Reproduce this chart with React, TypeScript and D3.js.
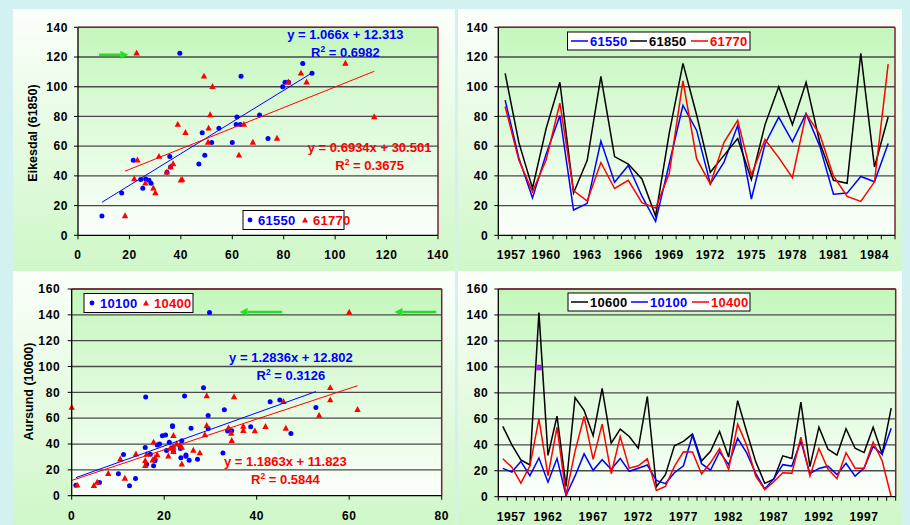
import React from 'react';
import * as d3 from 'd3';

// ---------- DATA ----------
const yearsTop = [1957, 1958, 1959, 1960, 1961, 1962, 1963, 1964, 1965, 1966, 1967, 1968, 1969, 1970, 1971, 1972, 1973, 1974, 1975, 1976, 1977, 1978, 1979, 1980, 1981, 1982, 1983, 1984, 1985];
const s61850 = [109, 62.5, 31.7, 72, 103, 28.5, 50.5, 107, 53, 48, 37.9, 13, 69, 115.7, 81, 42.4, 53.8, 65.2, 37.5, 74.5, 100, 74.5, 103, 62.5, 37, 35, 122.5, 46, 79.6];
const s61550 = [91, 52, 25.2, 54.8, 80.5, 17, 21.5, 63.4, 35.7, 47, 26.3, 9.3, 48.3, 87.4, 70.6, 34.6, 49.3, 73.9, 24.4, 61.5, 79.6, 63.1, 81.9, 60, 27.6, 28.4, 39.6, 36, 61.8];
const s61770 = [86.7, 50.6, 29.3, 50.8, 88.9, 30.1, 23.1, 49, 31.5, 37, 21.9, 18.3, 41.8, 104, 51.4, 34.5, 62.6, 77.4, 40.5, 64.5, 52.3, 38.8, 81.8, 68, 40, 26.2, 22.8, 36, 115.2];

const yearsBottom = [1957, 1958, 1959, 1960, 1961, 1962, 1963, 1964, 1965, 1966, 1967, 1968, 1969, 1970, 1971, 1972, 1973, 1974, 1975, 1976, 1977, 1978, 1979, 1980, 1981, 1982, 1983, 1984, 1985, 1986, 1987, 1988, 1989, 1990, 1991, 1992, 1993, 1994, 1995, 1996, 1997, 1998, 1999, 2000];
const s10600 = [54.2, 40, 28.3, 24.4, 141.8, 31.8, 62, 8, 76.4, 66.5, 47, 83.5, 41.3, 52.1, 46.4, 37.3, 77.2, 7.7, 17, 39.2, 42.6, 48.2, 27.5, 35, 50.3, 30.5, 74, 50, 27, 10.3, 13.4, 31.5, 29.4, 72.8, 23.2, 53.6, 36.6, 32.1, 52.3, 37.3, 34, 53.4, 33, 68.2];
const s10100 = [21.8, 19, 27.2, 16.2, 29.8, 11.2, 29.5, 0.9, 16, 33, 20.3, 28.5, 21.1, 29.5, 19.6, 21.9, 24.4, 12.5, 10.1, 18.5, 23.8, 47.4, 25.4, 20.5, 34.6, 24.7, 45, 33.7, 18, 6, 13.8, 24.7, 23.6, 42.9, 17.7, 21.8, 23.5, 17, 25.8, 15.9, 22, 38.7, 32.7, 52.8];
const s10400 = [29.2, 22.7, 10.5, 23.8, 60, 16.2, 53.5, 1.2, 35.1, 61.8, 28.8, 55.9, 17.7, 46.3, 22, 23.8, 29.2, 4.8, 7.9, 23.4, 34.6, 34.5, 17.5, 26.3, 37.1, 20.9, 55.9, 39.6, 15.9, 5.5, 11.5, 18.5, 18, 45.8, 15.9, 37.1, 21.3, 13.9, 33.9, 22, 22, 41.9, 27.7, 0];

// highlighted point (purple square) in the lower time series
const highlightYear = 1961;
const highlightValue = 99.5;

// trendline coefficients as printed
const fit61550 = { slope: 1.066, intercept: 12.313, r2: '0.6982', eq: 'y = 1.066x + 12.313' };
const fit61770 = { slope: 0.6934, intercept: 30.501, r2: '0.3675', eq: 'y = 0.6934x + 30.501' };
const fit10100 = { slope: 1.2836, intercept: 12.802, r2: '0.3126', eq: 'y = 1.2836x + 12.802' };
const fit10400 = { slope: 1.1863, intercept: 11.823, r2: '0.5844', eq: 'y = 1.1863x + 11.823' };

// ticks
const ticksA = [0, 20, 40, 60, 80, 100, 120, 140];
const ticksCy = [0, 20, 40, 60, 80, 100, 120, 140, 160];
const ticksCx = [0, 20, 40, 60, 80];
const yearLabelsTop = [1957, 1960, 1963, 1966, 1969, 1972, 1975, 1978, 1981, 1984];
const yearLabelsBottom = [1957, 1962, 1967, 1972, 1977, 1982, 1987, 1992, 1997];

// ---------- STYLE ----------
const FONT = "'Liberation Sans', Arial, sans-serif";
const BLUE = '#0000ff';
const RED = '#ff0000';
const BLACK = '#000000';
const GREEN = '#22e022';
const GRID = '#4a4a4a';
const FRAME = '#7a2038';

function tri(cx: number, cy: number, s = 3.2) {
  return `M${cx},${cy - s * 1.15} L${cx + s},${cy + s * 0.7} L${cx - s},${cy + s * 0.7} Z`;
}

function Arrow({ x1, y1, x2, y2 }: { x1: number; y1: number; x2: number; y2: number }) {
  const dir = Math.sign(x2 - x1);
  const hx = x2 - dir * 8;
  return (
    <g>
      <line x1={x1} y1={y1} x2={hx} y2={y2} stroke={GREEN} strokeWidth={2.6} />
      <path d={`M${x2},${y2} L${hx},${y2 - 4} L${hx},${y2 + 4} Z`} fill={GREEN} />
    </g>
  );
}

function R2({ x, y, value, color }: { x: number; y: number; value: string; color: string }) {
  return (
    <text x={x} y={y} textAnchor="middle" fill={color} fontSize={13} fontWeight="bold">
      R<tspan fontSize={8.5} dy={-5}>2</tspan>
      <tspan dy={5}>{` = ${value}`}</tspan>
    </text>
  );
}

function YAxis({ scale, ticks, x, gap = 10 }: { scale: any; ticks: number[]; x: number; gap?: number }) {
  return (
    <g>
      {ticks.map((t) => (
        <g key={t}>
          <line x1={x - 4} x2={x} y1={scale(t)} y2={scale(t)} stroke={BLACK} strokeWidth={1} />
          <text x={x - gap} y={scale(t) + 4.3} textAnchor="end" fontSize={12} fontWeight="bold" letterSpacing={0.6}>
            {t}
          </text>
        </g>
      ))}
      <line x1={x} x2={x} y1={scale(ticks[0])} y2={scale(ticks[ticks.length - 1])} stroke={BLACK} strokeWidth={1.3} />
    </g>
  );
}

function PlotFrame({ x0, x1, y0, y1, ticks, yScale }: any) {
  return (
    <g>
      <rect x={x0} y={y1} width={x1 - x0} height={y0 - y1} fill="url(#plotBg)" />
      {ticks.slice(1).map((t: number) => (
        <line key={t} x1={x0} x2={x1} y1={yScale(t)} y2={yScale(t)} stroke={GRID} strokeWidth={1.3} />
      ))}
      <line x1={x0} x2={x1} y1={y1} y2={y1} stroke={FRAME} strokeWidth={1.5} />
      <line x1={x1} x2={x1} y1={y1} y2={y0} stroke={FRAME} strokeWidth={1.5} />
    </g>
  );
}

// ---------- Scatter panel ----------
function Scatter(props: {
  xDomain: [number, number];
  yDomain: [number, number];
  xRange: [number, number];
  yRange: [number, number];
  xTicks: number[];
  yTicks: number[];
  yGap: number;
  blueX: number[];
  redX: number[];
  ys: number[];
  blueFit: any;
  redFit: any;
}) {
  const x = d3.scaleLinear(props.xDomain, props.xRange);
  const y = d3.scaleLinear(props.yDomain, props.yRange);
  const [x0, x1] = props.xRange;
  const [y0, y1] = props.yRange;
  const trend = (xs: number[], fit: any) => {
    const [a, b] = d3.extent(xs) as [number, number];
    return d3.line()([
      [x(a), y(fit.slope * a + fit.intercept)],
      [x(b), y(fit.slope * b + fit.intercept)],
    ]) as string;
  };
  return (
    <g>
      <PlotFrame x0={x0} x1={x1} y0={y0} y1={y1} ticks={props.yTicks} yScale={y} />
      {props.ys.map((v, i) => (
        <circle key={'b' + i} cx={x(props.blueX[i])} cy={y(v)} r={2.5} fill={BLUE} />
      ))}
      {props.ys.map((v, i) => (
        <path key={'r' + i} d={tri(x(props.redX[i]), y(v))} fill={RED} />
      ))}
      <path d={trend(props.blueX, props.blueFit)} stroke={BLUE} strokeWidth={1} fill="none" />
      <path d={trend(props.redX, props.redFit)} stroke={RED} strokeWidth={1} fill="none" />
      <YAxis scale={y} ticks={props.yTicks} x={x0} gap={props.yGap} />
      <line x1={x0} x2={x1} y1={y0} y2={y0} stroke={BLACK} strokeWidth={1.3} />
      {props.xTicks.map((t) => (
        <g key={t}>
          <line x1={x(t)} x2={x(t)} y1={y0} y2={y0 + 4} stroke={BLACK} />
          <text x={x(t)} y={y0 + 24} textAnchor="middle" fontSize={12} fontWeight="bold" letterSpacing={0.6}>
            {t}
          </text>
        </g>
      ))}
    </g>
  );
}

// ---------- Time series panel ----------
function TimeSeries(props: {
  years: number[];
  series: { values: number[]; color: string }[];
  yDomain: [number, number];
  xRange: [number, number];
  yRange: [number, number];
  yTicks: number[];
  labels: number[];
}) {
  const band = d3.scaleBand(props.years.map(String), props.xRange);
  const cx = (yr: number) => (band(String(yr)) as number) + band.bandwidth() / 2;
  const y = d3.scaleLinear(props.yDomain, props.yRange);
  const [x0, x1] = props.xRange;
  const [y0, y1] = props.yRange;
  const line = d3
    .line<number>()
    .x((_, i) => cx(props.years[i]))
    .y((v) => y(v));
  const boundaries = props.years.map((yr) => band(String(yr)) as number).concat([x1]);
  return (
    <g>
      <PlotFrame x0={x0} x1={x1} y0={y0} y1={y1} ticks={props.yTicks} yScale={y} />
      {props.series.map((s, k) => (
        <path key={k} d={line(s.values) as string} stroke={s.color} strokeWidth={1.5} fill="none" strokeLinejoin="miter" />
      ))}
      <YAxis scale={y} ticks={props.yTicks} x={x0} />
      <line x1={x0} x2={x1} y1={y0} y2={y0} stroke={BLACK} strokeWidth={1.3} />
      {boundaries.map((b, i) => (
        <line key={i} x1={b} x2={b} y1={y0} y2={y0 + 4} stroke={BLACK} />
      ))}
      {props.labels.map((l) => (
        <text key={l} x={Math.max(cx(l), x0 + 13)} y={y0 + 24} textAnchor="middle" fontSize={12} fontWeight="bold" letterSpacing={0.6}>
          {l}
        </text>
      ))}
    </g>
  );
}

function LineLegend({ x, y, w, items }: { x: number; y: number; w: number; items: { name: string; color: string; tx: number }[] }) {
  return (
    <g>
      <rect x={x} y={y} width={w} height={18} fill="#ffffff" stroke={BLACK} strokeWidth={1} />
      {items.map((it) => (
        <g key={it.name}>
          <line x1={it.tx - 19} x2={it.tx - 2} y1={y + 9} y2={y + 9} stroke={it.color} strokeWidth={1.5} />
          <text x={it.tx} y={y + 13.5} fontSize={13} fontWeight="bold" fill={it.color} letterSpacing={0.3}>
            {it.name}
          </text>
        </g>
      ))}
    </g>
  );
}

function MarkerLegend({ x, y, w, blue, red, bx, rx }: any) {
  return (
    <g>
      <rect x={x} y={y} width={w} height={19} fill="#ffffff" stroke={BLACK} strokeWidth={1} />
      <circle cx={bx - 8} cy={y + 9.5} r={2.4} fill={BLUE} />
      <text x={bx} y={y + 14.5} fontSize={13} fontWeight="bold" fill={BLUE} letterSpacing={0.3}>{blue}</text>
      <path d={tri(rx - 8, y + 10, 3)} fill={RED} />
      <text x={rx} y={y + 14.5} fontSize={13} fontWeight="bold" fill={RED} letterSpacing={0.3}>{red}</text>
    </g>
  );
}

export default function App() {
  // scales used for annotation placement
  const xA = d3.scaleLinear([0, 140], [78, 438]);
  const yA = d3.scaleLinear([0, 140], [235.3, 27.3]);
  const xC = d3.scaleLinear([0, 80], [71.7, 441.7]);
  const yC = d3.scaleLinear([0, 160], [495.7, 289]);
  const bandD = d3.scaleBand(yearsBottom.map(String), [498.3, 895.7]);
  const yD = d3.scaleLinear([0, 160], [496.7, 289]);

  return (
    <svg width={910} height={525} style={{ position: 'absolute', left: 0, top: 0 }} fontFamily={FONT}>
      <defs>
        <linearGradient id="chartBg" x1="0" y1="0" x2="0" y2="1">
          <stop offset="0" stopColor="#fbfffa" />
          <stop offset="1" stopColor="#cff7c8" />
        </linearGradient>
        <linearGradient id="plotBg" x1="0" y1="0" x2="0" y2="1">
          <stop offset="0" stopColor="#c4f7bc" />
          <stop offset="1" stopColor="#fbfffb" />
        </linearGradient>
      </defs>
      <rect width={910} height={525} fill="#d2f1f0" />
      <rect x={13} y={9} width={442} height={262} fill="url(#chartBg)" />
      <rect x={458} y={9} width={444} height={262} fill="url(#chartBg)" />
      <rect x={13} y={271} width={442} height={254} fill="url(#chartBg)" />
      <rect x={458} y={271} width={444} height={254} fill="url(#chartBg)" />

      {/* Panel A: scatter 61550/61770 vs 61850 */}
      <Scatter
        xDomain={[0, 140]}
        yDomain={[0, 140]}
        xRange={[78, 438]}
        yRange={[235.3, 27.3]}
        xTicks={ticksA}
        yTicks={ticksA}
        yGap={10}
        blueX={s61550}
        redX={s61770}
        ys={s61850}
        blueFit={fit61550}
        redFit={fit61770}
      />
      <text transform="translate(37,133) rotate(-90)" textAnchor="middle" fontSize={12.5} fontWeight="bold">
        Eikesdal (61850)
      </text>
      <text x={xA(104)} y={yA(131.8)} textAnchor="middle" fontSize={13} fontWeight="bold" fill={BLUE}>{fit61550.eq}</text>
      <R2 x={xA(104)} y={yA(119.7)} value={fit61550.r2} color={BLUE} />
      <text x={xA(113.4)} y={yA(56.1)} textAnchor="middle" fontSize={13} fontWeight="bold" fill={RED}>{fit61770.eq}</text>
      <R2 x={xA(113.4)} y={yA(44)} value={fit61770.r2} color={RED} />
      <Arrow x1={xA(8.2)} y1={yA(121.5)} x2={xA(19.6)} y2={yA(121.5)} />
      <MarkerLegend x={243} y={210.5} w={101} blue="61550" red="61770" bx={258} rx={313} />

      {/* Panel B: time series 1957-1985 */}
      <TimeSeries
        years={yearsTop}
        series={[
          { values: s61550, color: BLUE },
          { values: s61850, color: BLACK },
          { values: s61770, color: RED },
        ]}
        yDomain={[0, 140]}
        xRange={[498.3, 895]}
        yRange={[235.3, 27.3]}
        yTicks={ticksA}
        labels={yearLabelsTop}
      />
      <LineLegend
        x={567.5}
        y={32}
        w={182.5}
        items={[
          { name: '61550', color: BLUE, tx: 590 },
          { name: '61850', color: BLACK, tx: 649 },
          { name: '61770', color: RED, tx: 710 },
        ]}
      />

      {/* Panel C: scatter 10100/10400 vs 10600 */}
      <Scatter
        xDomain={[0, 80]}
        yDomain={[0, 160]}
        xRange={[71.7, 441.7]}
        yRange={[495.7, 289]}
        xTicks={ticksCx}
        yTicks={ticksCy}
        yGap={11.5}
        blueX={s10100}
        redX={s10400}
        ys={s10600}
        blueFit={fit10100}
        redFit={fit10400}
      />
      <text transform="translate(33,391.5) rotate(-90)" textAnchor="middle" fontSize={12.5} fontWeight="bold">
        Aursund (10600)
      </text>
      <MarkerLegend x={84} y={293.5} w={109} blue="10100" red="10400" bx={100} rx={154} />
      <text x={xC(47.4)} y={yC(103.2)} textAnchor="middle" fontSize={13} fontWeight="bold" fill={BLUE}>{fit10100.eq}</text>
      <R2 x={xC(47.4)} y={yC(89.3)} value={fit10100.r2} color={BLUE} />
      <text x={xC(46.2)} y={yC(23.2)} textAnchor="middle" fontSize={13} fontWeight="bold" fill={RED}>{fit10400.eq}</text>
      <R2 x={xC(46.2)} y={yC(9.3)} value={fit10400.r2} color={RED} />
      <Arrow x1={xC(45.5)} y1={yC(142.2)} x2={xC(36.3)} y2={yC(142.2)} />
      <Arrow x1={xC(78.8)} y1={yC(142.2)} x2={xC(69.8)} y2={yC(142.2)} />

      {/* Panel D: time series 1957-2000 */}
      <TimeSeries
        years={yearsBottom}
        series={[
          { values: s10600, color: BLACK },
          { values: s10100, color: BLUE },
          { values: s10400, color: RED },
        ]}
        yDomain={[0, 160]}
        xRange={[498.3, 895.7]}
        yRange={[496.7, 289]}
        yTicks={ticksCy}
        labels={yearLabelsBottom}
      />
      <rect
        x={(bandD(String(highlightYear)) as number) + bandD.bandwidth() / 2 - 2.8}
        y={yD(highlightValue) - 2.8}
        width={5.6}
        height={5.6}
        fill="#a020f0"
      />
      <LineLegend
        x={568}
        y={293}
        w={182}
        items={[
          { name: '10600', color: BLACK, tx: 590 },
          { name: '10100', color: BLUE, tx: 650 },
          { name: '10400', color: RED, tx: 711 },
        ]}
      />
    </svg>
  );
}
